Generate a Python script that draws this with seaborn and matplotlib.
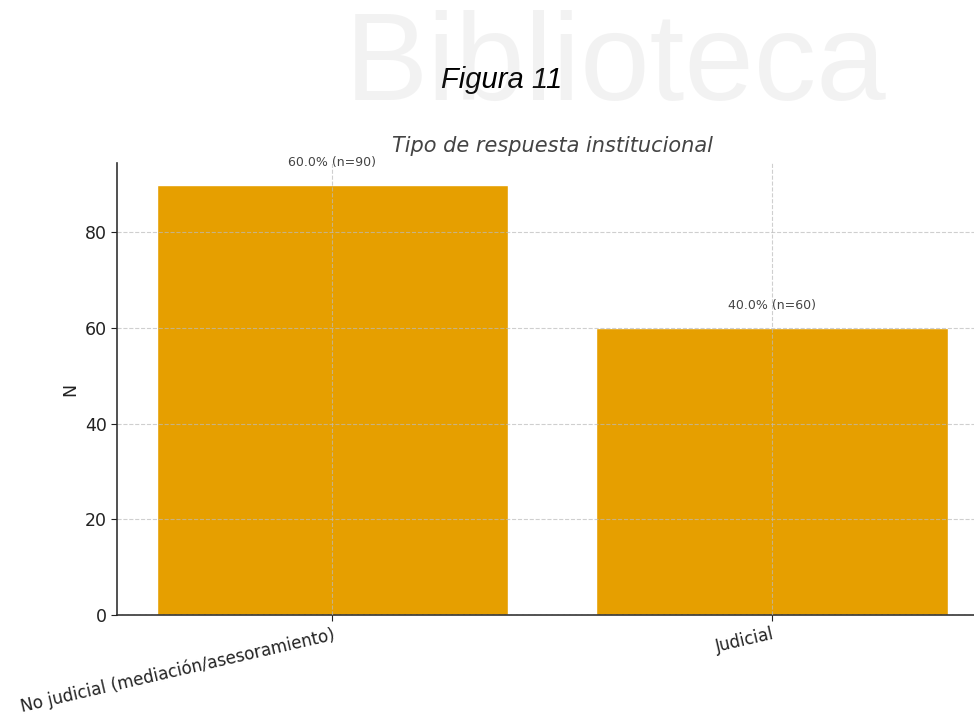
import matplotlib.pyplot as plt
import seaborn as sns
import pandas as pd

# Data
categorias = ["No judicial (mediación/asesoramiento)", "Judicial"]
conteos = [90, 60]
porcentajes = [60.0, 40.0]

df = pd.DataFrame({"Tipo": categorias, "N": conteos})

sns.set_style("white")
plt.rcParams["font.family"] = ["DejaVu Sans"]

fig = plt.figure(figsize=(9.74, 7.2), dpi=100)

# Faint watermark of the source document
fig.text(0.632, 0.905, "Biblioteca", fontsize=90, color="#9a9a9a", alpha=0.12,
         ha="center", va="center", family="Liberation Sans", zorder=10)
fig.text(0.515, 0.889, "Figura 11", fontsize=21, style="italic",
         family="Liberation Sans", ha="center", va="center", color="black")

ax = fig.add_axes([117 / 974, 1 - 615 / 720, (987.6 - 117) / 974, (615 - 163) / 720])

sns.barplot(data=df, x="Tipo", y="N", color="#E69F00", saturation=1, width=0.8, ax=ax)

ax.set_xlim(-0.49, 1.49)
ax.set_ylim(0, 94.5)
ax.set_yticks([0, 20, 40, 60, 80])
ax.set_axisbelow(False)
ax.grid(True, linestyle="--", color="#bbbbbb", linewidth=0.8, alpha=0.7)

for s in ["top", "right"]:
    ax.spines[s].set_visible(False)
for s in ["left", "bottom"]:
    ax.spines[s].set_color("#333333")
    ax.spines[s].set_linewidth(1.2)

ax.tick_params(axis="y", labelsize=12.5, colors="#222222", length=4, left=True)
ax.tick_params(axis="x", labelsize=12.1, colors="#222222", length=4, bottom=True)
plt.setp(ax.get_xticklabels(), rotation=13, ha="right", rotation_mode="anchor")

ax.set_xlabel("")
ax.set_ylabel("N", fontsize=12.5, color="#222222")
ax.set_title("Tipo de respuesta institucional", fontsize=15, style="italic",
             color="#444444", pad=8)

for i, (n, p) in enumerate(zip(conteos, porcentajes)):
    ax.text(i, n + 3.3, f"{p:.1f}% (n={n})", ha="center", va="bottom",
            fontsize=9, color="#444444")

plt.savefig("out.png", dpi=100)
plt.close()
